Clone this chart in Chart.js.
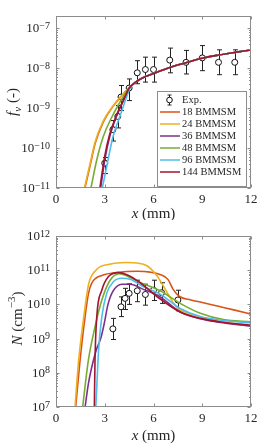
<!DOCTYPE html>
<html>
<head>
<meta charset="utf-8">
<script src="https://cdn.jsdelivr.net/npm/chart.js@4.4.0/dist/chart.umd.min.js"></script>
<style>
  html, body { margin: 0; padding: 0; background: #fff; }
  canvas { position: absolute; left: 0; }
  #fvChart { top: 0; }
  #nChart { top: 220px; }
</style>
</head>
<body>
<canvas id="fvChart" width="263" height="220"></canvas>
<canvas id="nChart" width="263" height="227"></canvas>
<script>
// ---- data ----
const xTicks = [0, 3, 6, 9, 12];
const fvDecades = [-11, -10, -9, -8, -7];
const nDecades = [7, 8, 9, 10, 11, 12];
const seriesNames = ['18 BMMSM', '24 BMMSM', '36 BMMSM', '48 BMMSM', '96 BMMSM', '144 BMMSM'];
const seriesColors = ['#D95319', '#EDB120', '#7E2F8E', '#77AC30', '#4DBEEE', '#A2142F'];

// soot volume fraction, [x mm, fv]
const fv18 = [[1.78, 1e-11], [2.12, 4e-11], [2.42, 1.35e-10], [2.92, 4.6e-10], [3.5, 1.1e-9], [4.0, 1.95e-9], [4.5, 3.3e-9]];
const fv24 = [[1.75, 1e-11], [2.1, 4.1e-11], [2.4, 1.4e-10], [2.9, 4.7e-10], [3.5, 1.12e-9], [4.0, 1.95e-9], [4.5, 3.3e-9]];
const fv36 = [[2.75, 1e-11], [3.0, 5e-11], [3.3, 1.9e-10], [3.7, 5.9e-10], [4.2, 1.7e-9], [4.5, 3.1e-9]];
const fv48 = [[2.15, 1e-11], [2.5, 4.9e-11], [2.9, 1.9e-10], [3.4, 5.6e-10], [3.95, 1.45e-9], [4.5, 3.2e-9]];
const fv96 = [[2.85, 1e-11], [3.2, 5e-11], [3.5, 1.9e-10], [3.95, 6.5e-10], [4.3, 1.7e-9], [4.6, 3.4e-9]];
const fv144 = [[2.7, 1e-11], [3.0, 6.3e-11], [3.3, 2.2e-10], [3.7, 6.3e-10], [4.2, 1.75e-9], [4.5, 3.15e-9]];
const fvTail = [[5, 4.8e-9], [5.5, 6.2e-9], [6, 7.4e-9], [7, 1.05e-8], [8, 1.38e-8], [9, 1.78e-8], [10, 2.14e-8], [11, 2.5e-8], [12, 2.88e-8]];

const fvExpX = [3.0, 3.5, 3.8, 4.0, 4.5, 5.0, 5.5, 6.0, 7.0, 8.0, 9.0, 10.0, 11.0];
const fvExpY = [4.2e-11, 2.9e-10, 6.2e-10, 1.9e-9, 3.2e-9, 7.7e-9, 9.3e-9, 9.3e-9, 1.6e-8, 1.41e-8, 1.82e-8, 1.41e-8, 1.41e-8];
const fvExpLo = [2.3e-11, 1.5e-10, 3.2e-10, 8.7e-10, 1.55e-9, 4.1e-9, 4.5e-9, 4.5e-9, 7.7e-9, 7.2e-9, 8.7e-9, 6.9e-9, 6.9e-9];
const fvExpHi = [5.8e-11, 4.9e-10, 1.17e-9, 3.7e-9, 5.4e-9, 1.55e-8, 1.9e-8, 1.9e-8, 3.2e-8, 2.8e-8, 3.7e-8, 2.9e-8, 2.9e-8];

// particle number density, [x mm, N]
const n18 = [[1.21, 1e7], [1.48, 2.3e8], [1.79, 4.4e9], [2.0, 2.1e10], [2.2, 4.2e10], [2.9, 7.2e10], [3.7, 8.5e10], [5.0, 9.3e10], [5.8, 8.8e10], [6.4, 7.5e10], [6.9, 5.3e10], [7.2, 2.8e10], [7.6, 1.7e10], [8.3, 1.35e10], [9, 1.14e10], [10, 8.8e9], [11, 6.8e9], [12, 5.2e9]];
const n24 = [[1.17, 1e7], [1.4, 2.5e8], [1.7, 4e9], [2.0, 3.8e10], [2.5, 1.05e11], [3.3, 1.5e11], [4.3, 1.68e11], [5.0, 1.62e11], [5.6, 1.35e11], [6.2, 7e10], [6.8, 2.4e10], [7.2, 1.15e10], [7.5, 7.5e9], [8, 5.8e9], [9, 4.1e9], [10, 3.2e9], [11, 2.7e9], [12, 2.4e9]];
const n36 = [[1.79, 1e7], [2.0, 5e7], [2.3, 2.3e8], [2.5, 5e8], [2.75, 1e9], [2.95, 2.5e9], [3.2, 1e10], [3.5, 2.4e10], [4.05, 3.9e10], [4.56, 3.9e10], [5.38, 2.75e10], [6.41, 1.66e10], [7.64, 6e9], [8.88, 3.8e9], [10, 3e9], [12, 2.3e9]];
const n48 = [[1.64, 1e7], [1.99, 2.3e8], [2.4, 2.2e9], [2.82, 1.35e10], [3.33, 5.1e10], [3.9, 7.9e10], [4.36, 6.8e10], [5.18, 4.4e10], [6.41, 2.5e10], [7.64, 1.07e10], [8.88, 5.5e9], [10.3, 3.6e9], [12, 3.1e9]];
const n96 = [[2.45, 1e7], [2.52, 5e7], [2.62, 4.6e8], [2.82, 4.4e9], [3.12, 2.1e10], [3.53, 4.6e10], [4.05, 5.8e10], [4.56, 5.4e10], [5.38, 3.3e10], [6.41, 2e10], [7.64, 7.6e9], [8.88, 4.4e9], [10.3, 3.4e9], [12, 2.9e9]];
const n144 = [[2.36, 1e7], [2.4, 2.3e8], [2.51, 4.4e9], [2.82, 2.6e10], [3.23, 6.5e10], [3.84, 8.5e10], [4.36, 7.4e10], [5.18, 4.3e10], [6.21, 1.7e10], [7.64, 6e9], [8.88, 3.9e9], [10.3, 3e9], [12, 2.45e9]];

const nExpX = [3.5, 4.0, 4.25, 4.5, 5.0, 5.5, 6.0, 6.5, 7.5];
const nExpY = [1.93e9, 8.5e9, 1.5e10, 2.1e10, 2.5e10, 1.95e10, 2.6e10, 2.2e10, 1.35e10];
const nExpLo = [9.4e8, 4.4e9, 7.1e9, 1.0e10, 1.2e10, 9.5e9, 1.3e10, 1.07e10, 6.5e9];
const nExpHi = [3.9e9, 1.66e10, 2.95e10, 4.0e10, 5.1e10, 3.9e10, 5.1e10, 4.3e10, 2.6e10];

// ---- helpers ----
const SERIF = '"Liberation Serif", "DejaVu Serif", serif';
const TXT = '#262626';
const BOX = '#8c8c8c';

function toPts(arr) { return arr.map(p => ({ x: p[0], y: p[1] })); }

function curveSets(curves) {
  return curves.map((c, i) => ({
    label: seriesNames[i],
    data: toPts(c),
    borderColor: seriesColors[i],
    backgroundColor: seriesColors[i],
    borderWidth: 1.6,
    pointRadius: 0,
    fill: false,
    cubicInterpolationMode: 'monotone',
    order: 6 - i
  }));
}

function expSet(xs, ys, lo, hi) {
  return {
    label: 'Exp.',
    data: xs.map((x, i) => ({ x: x, y: ys[i], lo: lo[i], hi: hi[i] })),
    showLine: false,
    pointRadius: 3,
    pointBackgroundColor: '#fff',
    pointBorderColor: '#111',
    pointBorderWidth: 1,
    order: 10
  };
}

function fontFor(p, size) {
  const s = (p.sub || p.sup) ? Math.round(size * 0.7) : size;
  return (p.it ? 'italic ' : '') + s + 'px ' + SERIF;
}

// mixed italic / sub / sup text centered on (0, baseline 0)
function drawRich(ctx, parts, size) {
  const widths = parts.map(p => { ctx.font = fontFor(p, size); return ctx.measureText(p.t).width; });
  const total = widths.reduce((a, b) => a + b, 0);
  let x = -total / 2;
  ctx.textBaseline = 'alphabetic';
  ctx.textAlign = 'left';
  parts.forEach((p, i) => {
    ctx.font = fontFor(p, size);
    const dy = p.sub ? size * 0.28 : (p.sup ? -size * 0.42 : 0);
    ctx.fillText(p.t, x, dy);
    x += widths[i];
  });
}

const errorBars = {
  id: 'errorBars',
  beforeDatasetsDraw(chart) {
    const ds = chart.data.datasets.find(d => d.label === 'Exp.');
    const { ctx, scales: { x, y } } = chart;
    ctx.save();
    ctx.strokeStyle = '#222';
    ctx.lineWidth = 1;
    ds.data.forEach(p => {
      const px = Math.round(x.getPixelForValue(p.x)) + 0.5;
      const y1 = y.getPixelForValue(p.lo), y2 = y.getPixelForValue(p.hi);
      ctx.beginPath();
      ctx.moveTo(px, y1); ctx.lineTo(px, y2);
      ctx.moveTo(px - 2.5, y1); ctx.lineTo(px + 2.5, y1);
      ctx.moveTo(px - 2.5, y2); ctx.lineTo(px + 2.5, y2);
      ctx.stroke();
    });
    ctx.restore();
  }
};

// box, inward ticks, y decade labels and axis titles
const frame = {
  id: 'frame',
  afterDatasetsDraw(chart, args, opts) {
    const { ctx, chartArea: a, scales: { x, y } } = chart;
    const L = Math.round(a.left) + 0.5, R = Math.round(a.right) - 0.5;
    const T = Math.round(a.top) + 0.5, B = Math.round(a.bottom) - 0.5;
    ctx.save();
    ctx.strokeStyle = BOX;
    ctx.lineWidth = 1;
    ctx.strokeRect(L, T, R - L, B - T);
    ctx.beginPath();
    xTicks.forEach(v => {
      const px = Math.round(x.getPixelForValue(v)) + 0.5;
      ctx.moveTo(px, B); ctx.lineTo(px, B - 3);
      ctx.moveTo(px, T); ctx.lineTo(px, T + 3);
    });
    const d0 = opts.decades[0], d1 = opts.decades[opts.decades.length - 1];
    for (let d = d0; d <= d1; d++) {
      for (let k = 1; k <= 9; k++) {
        const v = k * Math.pow(10, d);
        if (v < y.min || v > y.max) continue;
        const py = Math.round(y.getPixelForValue(v)) + 0.5;
        const len = k === 1 ? 3 : 1.5;
        ctx.moveTo(L, py); ctx.lineTo(L + len, py);
        ctx.moveTo(R, py); ctx.lineTo(R - len, py);
      }
    }
    ctx.stroke();

    // y tick labels 10^n
    ctx.fillStyle = TXT;
    opts.decades.forEach(d => {
      const py = y.getPixelForValue(Math.pow(10, d));
      const ex = String(d).replace('-', '\u2212');
      ctx.font = '10px ' + SERIF;
      const we = ctx.measureText(ex).width;
      ctx.font = '13px ' + SERIF;
      const wb = ctx.measureText('10').width;
      const right = a.left - 6;
      ctx.textAlign = 'left';
      ctx.textBaseline = 'middle';
      ctx.fillText('10', right - we - wb, py + 0.5);
      ctx.font = '10px ' + SERIF;
      ctx.textBaseline = 'alphabetic';
      ctx.fillText(ex, right - we, py + 0.5);
    });

    // x title
    ctx.save();
    ctx.translate((a.left + a.right) / 2, opts.xTitleY);
    drawRich(ctx, [{ t: 'x', it: true }, { t: ' (mm)' }], 15);
    ctx.restore();
    // y title
    ctx.save();
    ctx.translate(opts.yTitleX, (a.top + a.bottom) / 2 + opts.yTitleShift);
    ctx.rotate(-Math.PI / 2);
    drawRich(ctx, opts.yTitle, 15);
    ctx.restore();
    ctx.restore();
  }
};

const boxLegend = {
  id: 'boxLegend',
  afterDraw(chart, args, opts) {
    if (!opts.show) return;
    const ctx = chart.ctx;
    const bx = 157.5, by = 91.5, bw = 89, bh = 95;
    ctx.save();
    ctx.fillStyle = '#fff';
    ctx.fillRect(bx, by, bw, bh);
    ctx.strokeStyle = BOX;
    ctx.lineWidth = 1;
    ctx.strokeRect(bx, by, bw, bh);
    ctx.font = '10.5px ' + SERIF;
    ctx.textBaseline = 'middle';
    ctx.textAlign = 'left';
    const sets = chart.data.datasets;
    const exp = sets.find(d => d.label === 'Exp.');
    const curves = sets.filter(d => d !== exp);
    let ry = 100;
    // Exp. entry: marker with error bar
    ctx.strokeStyle = '#222';
    ctx.beginPath();
    ctx.moveTo(169.5, ry - 5); ctx.lineTo(169.5, ry + 5);
    ctx.moveTo(167.5, ry - 5); ctx.lineTo(171.5, ry - 5);
    ctx.moveTo(167.5, ry + 5); ctx.lineTo(171.5, ry + 5);
    ctx.stroke();
    ctx.beginPath();
    ctx.arc(169.5, ry, 2.8, 0, Math.PI * 2);
    ctx.fillStyle = '#fff';
    ctx.fill();
    ctx.strokeStyle = '#111';
    ctx.stroke();
    ctx.fillStyle = TXT;
    ctx.fillText(exp.label, 182, ry);
    curves.forEach((d, i) => {
      const yy = ry + 12 * (i + 1);
      ctx.strokeStyle = d.borderColor;
      ctx.lineWidth = 1.5;
      ctx.beginPath();
      ctx.moveTo(160, yy); ctx.lineTo(180, yy);
      ctx.stroke();
      ctx.fillStyle = TXT;
      ctx.fillText(d.label, 182, yy);
    });
    ctx.restore();
  }
};

function makeChart(id, o) {
  new Chart(document.getElementById(id), {
    type: 'line',
    data: { datasets: [o.exp].concat(o.curves) },
    plugins: [errorBars, frame, boxLegend],
    options: {
      responsive: false,
      animation: false,
      events: [],
      layout: { padding: { left: 0, right: 12, top: 16, bottom: 0 } },
      scales: {
        x: {
          type: 'linear', min: 0, max: 12,
          afterBuildTicks: s => { s.ticks = xTicks.map(v => ({ value: v })); },
          afterFit: s => { s.height = o.xAxisH; },
          ticks: { font: { family: SERIF, size: 13 }, color: TXT, padding: 4, maxRotation: 0, autoSkip: false },
          grid: { display: false, drawTicks: false },
          border: { display: false }
        },
        y: {
          type: 'logarithmic', min: o.yMin, max: o.yMax,
          afterFit: s => { s.width = 56; },
          ticks: { display: false },
          grid: { display: false, drawTicks: false },
          border: { display: false }
        }
      },
      plugins: {
        legend: { display: false },
        tooltip: { enabled: false },
        frame: { decades: o.decades, yTitle: o.yTitle, yTitleX: o.yTitleX, yTitleShift: o.yTitleShift, xTitleY: o.xTitleY },
        boxLegend: { show: o.legend }
      }
    }
  });
}

makeChart('fvChart', {
  exp: expSet(fvExpX, fvExpY, fvExpLo, fvExpHi),
  curves: curveSets([fv18, fv24, fv36, fv48, fv96, fv144].map(h => h.concat(fvTail))),
  yMin: 1e-11, yMax: 2.04e-7, decades: fvDecades,
  xAxisH: 32, xTitleY: 218, yTitleX: 16.5, yTitleShift: 0,
  yTitle: [{ t: 'f', it: true }, { t: 'v', it: true, sub: true }, { t: ' (-)' }],
  legend: true
});

makeChart('nChart', {
  exp: expSet(nExpX, nExpY, nExpLo, nExpHi),
  curves: curveSets([n18, n24, n36, n48, n96, n144]),
  yMin: 1e7, yMax: 1e12, decades: nDecades,
  xAxisH: 40, xTitleY: 220, yTitleX: 21.5, yTitleShift: -3,
  yTitle: [{ t: 'N', it: true }, { t: ' (cm' }, { t: '\u22123', sup: true }, { t: ')' }],
  legend: false
});
</script>
</body>
</html>
